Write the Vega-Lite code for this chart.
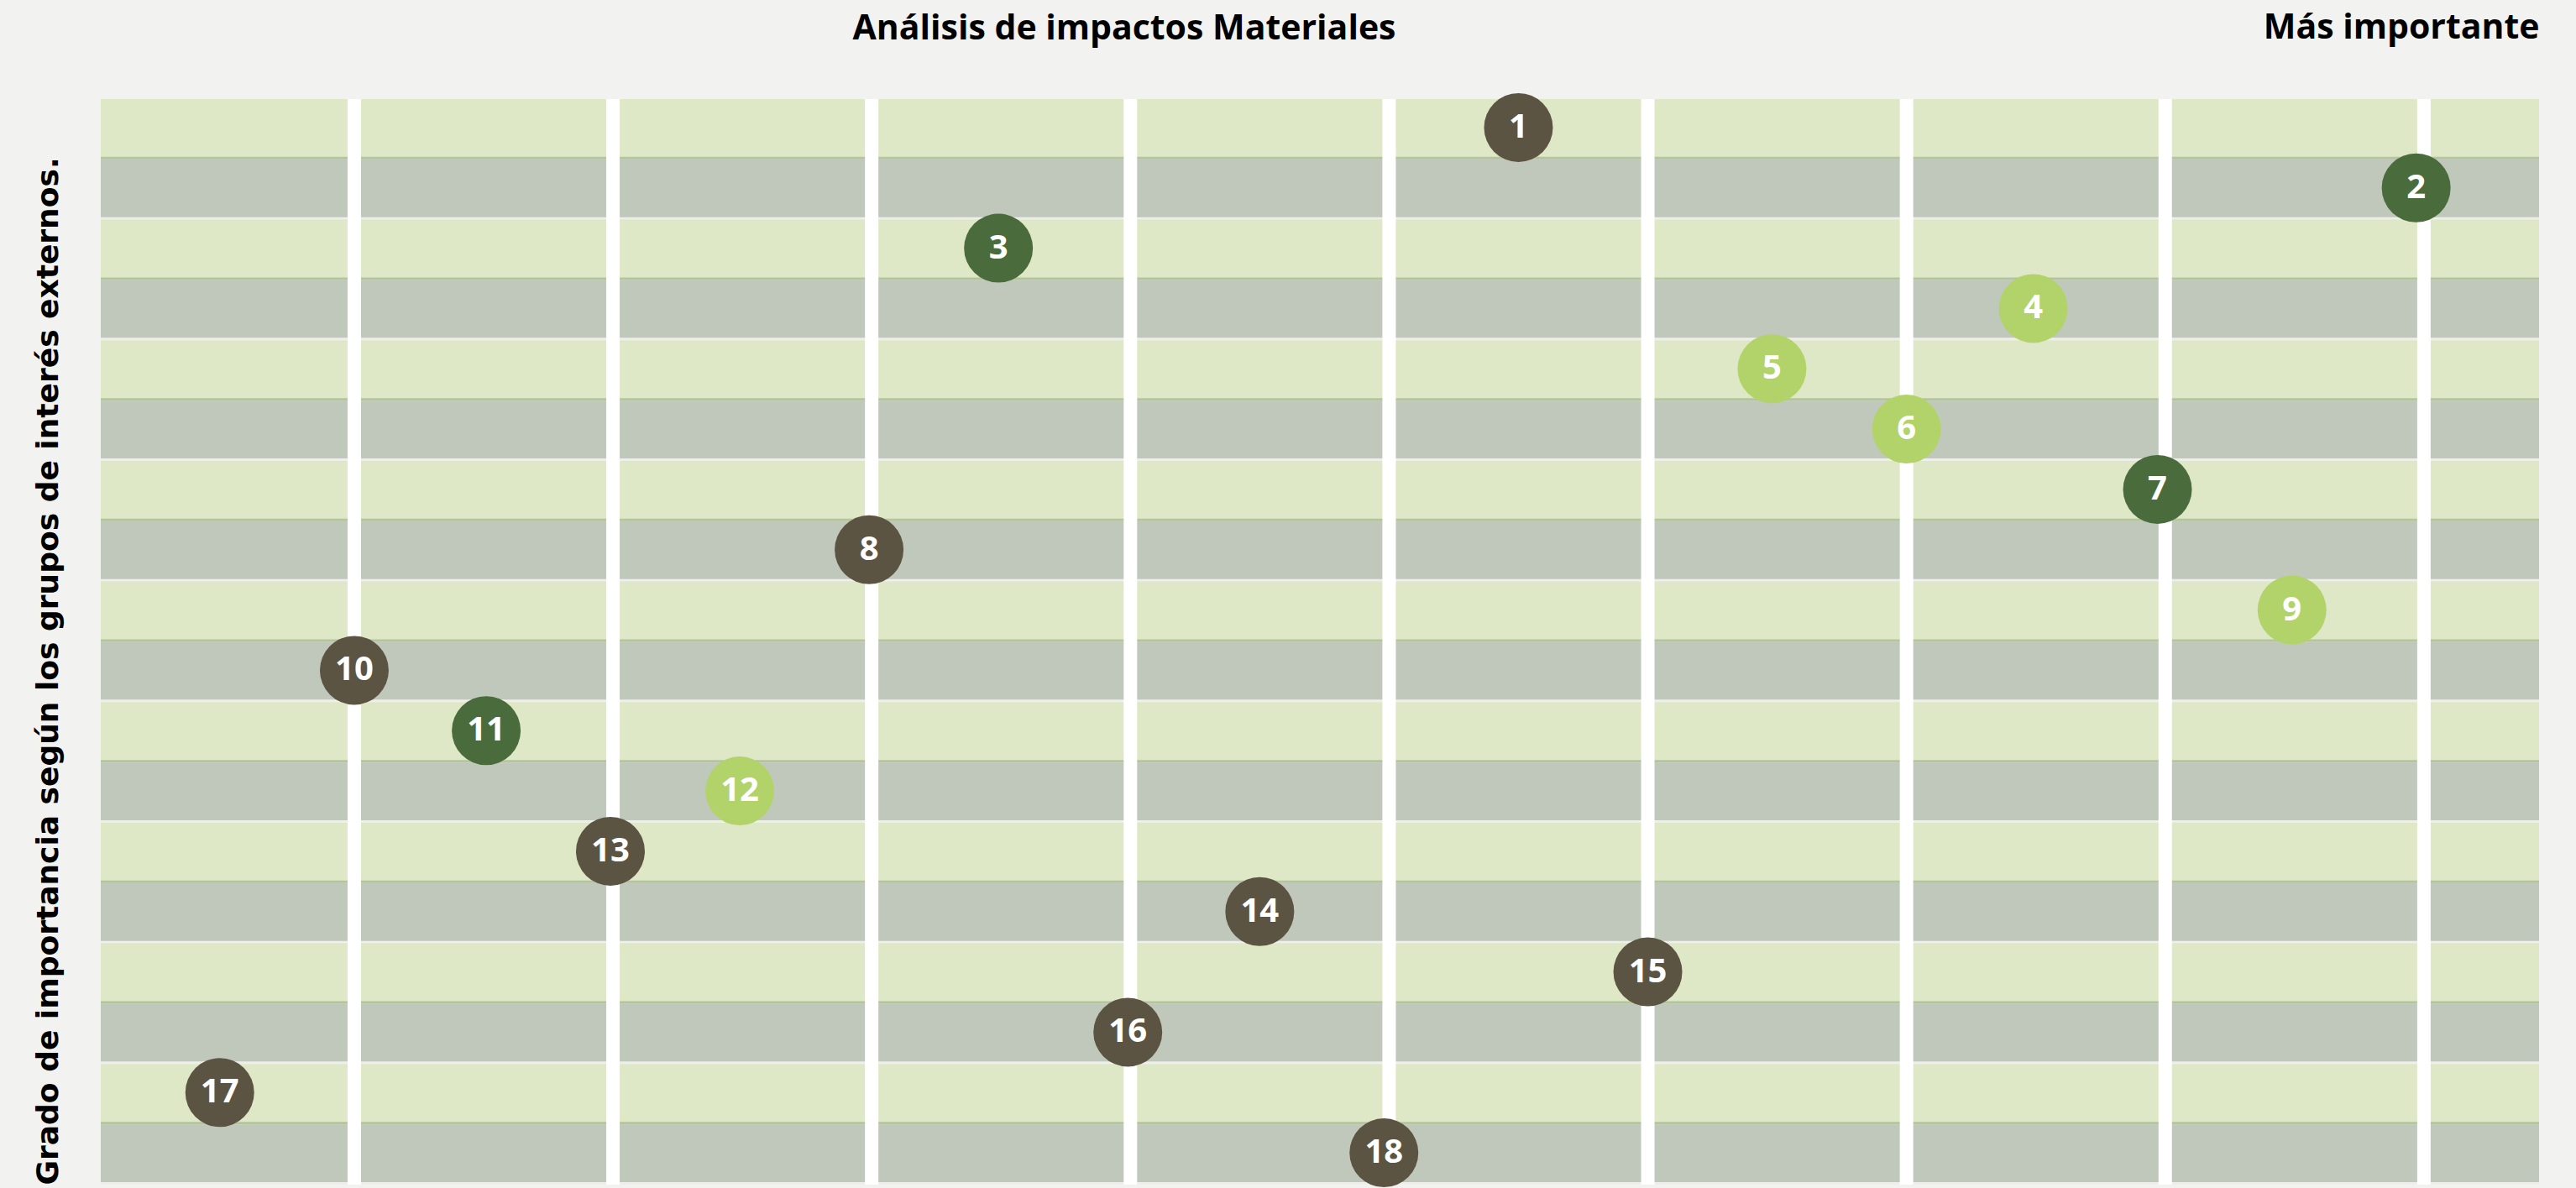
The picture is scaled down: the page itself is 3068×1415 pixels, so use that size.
{
  "$schema": "https://vega.github.io/schema/vega-lite/v6.json",
  "autosize": {"type": "none"},
  "width": 2904,
  "height": 1293,
  "padding": {"left": 120, "top": 118, "right": 44, "bottom": 4},
  "background": "#F2F2F0",
  "title": {
    "text": "Análisis de impactos Materiales",
    "anchor": "middle",
    "dx": -233,
    "offset": -76,
    "font": "Open Sans",
    "fontSize": 41,
    "fontWeight": 700,
    "color": "#000000",
    "baseline": "alphabetic"
  },
  "datasets": {
    "filas": [
      {"fila": 1, "banda": "clara"}, {"fila": 2, "banda": "oscura"},
      {"fila": 3, "banda": "clara"}, {"fila": 4, "banda": "oscura"},
      {"fila": 5, "banda": "clara"}, {"fila": 6, "banda": "oscura"},
      {"fila": 7, "banda": "clara"}, {"fila": 8, "banda": "oscura"},
      {"fila": 9, "banda": "clara"}, {"fila": 10, "banda": "oscura"},
      {"fila": 11, "banda": "clara"}, {"fila": 12, "banda": "oscura"},
      {"fila": 13, "banda": "clara"}, {"fila": 14, "banda": "oscura"},
      {"fila": 15, "banda": "clara"}, {"fila": 16, "banda": "oscura"},
      {"fila": 17, "banda": "clara"}, {"fila": 18, "banda": "oscura"}
    ],
    "lineas": [
      {"importancia": 1}, {"importancia": 2}, {"importancia": 3},
      {"importancia": 4}, {"importancia": 5}, {"importancia": 6},
      {"importancia": 7}, {"importancia": 8}, {"importancia": 9}
    ],
    "impactos": [
      {"fila": 1, "impacto": "1", "importancia": 5.5, "grupo": "G1"},
      {"fila": 2, "impacto": "2", "importancia": 8.97, "grupo": "G2"},
      {"fila": 3, "impacto": "3", "importancia": 3.49, "grupo": "G2"},
      {"fila": 4, "impacto": "4", "importancia": 7.49, "grupo": "G3"},
      {"fila": 5, "impacto": "5", "importancia": 6.48, "grupo": "G3"},
      {"fila": 6, "impacto": "6", "importancia": 7.0, "grupo": "G3"},
      {"fila": 7, "impacto": "7", "importancia": 7.97, "grupo": "G2"},
      {"fila": 8, "impacto": "8", "importancia": 2.99, "grupo": "G1"},
      {"fila": 9, "impacto": "9", "importancia": 8.49, "grupo": "G3"},
      {"fila": 10, "impacto": "10", "importancia": 1.0, "grupo": "G1"},
      {"fila": 11, "impacto": "11", "importancia": 1.51, "grupo": "G2"},
      {"fila": 12, "impacto": "12", "importancia": 2.49, "grupo": "G3"},
      {"fila": 13, "impacto": "13", "importancia": 1.99, "grupo": "G1"},
      {"fila": 14, "impacto": "14", "importancia": 4.5, "grupo": "G1"},
      {"fila": 15, "impacto": "15", "importancia": 6.0, "grupo": "G1"},
      {"fila": 16, "impacto": "16", "importancia": 3.99, "grupo": "G1"},
      {"fila": 17, "impacto": "17", "importancia": 0.48, "grupo": "G1"},
      {"fila": 18, "impacto": "18", "importancia": 4.98, "grupo": "G1"}
    ]
  },
  "config": {
    "view": {"stroke": null},
    "axisX": {
      "orient": "top",
      "labels": false, "ticks": false, "domain": false, "grid": false,
      "titleFont": "Open Sans", "titleFontSize": 41, "titleFontWeight": 700, "titleColor": "#000000",
      "titleAnchor": "end", "titleAlign": "right", "titleBaseline": "alphabetic",
      "titleX": 2904, "titleY": -73
    },
    "axisY": {
      "labels": false, "ticks": false, "domain": false, "grid": false,
      "titleFont": "DejaVu Sans", "titleFontSize": 36, "titleFontWeight": 700, "titleColor": "#000000",
      "titleAngle": 270, "titleAlign": "left", "titleBaseline": "alphabetic",
      "titleX": -52, "titleY": 1293
    }
  },
  "layer": [
    {
      "data": {"name": "filas"},
      "mark": {"type": "rect"},
      "encoding": {
        "y": {"field": "fila", "type": "ordinal", "scale": {"paddingInner": 0, "paddingOuter": 0}, "title": "Grado de importancia según los grupos de interés externos."},
        "color": {"field": "banda", "type": "nominal", "scale": {"domain": ["clara", "oscura"], "range": ["#DFE8C6", "#C0C8BC"]}, "legend": null}
      }
    },
    {
      "data": {"name": "filas"},
      "mark": {"type": "rule", "strokeWidth": 3, "yOffset": -1.5},
      "encoding": {
        "y": {"field": "fila", "type": "ordinal", "bandPosition": 1},
        "stroke": {"field": "banda", "type": "nominal", "scale": {"domain": ["clara", "oscura"], "range": ["#B4C49E", "#EEEEEA"]}, "legend": null}
      }
    },
    {
      "data": {"name": "lineas"},
      "mark": {"type": "rule", "strokeWidth": 16, "color": "#FFFFFF"},
      "encoding": {
        "x": {"field": "importancia", "type": "quantitative", "scale": {"domain": [0.02, 9.445], "nice": false, "zero": false}, "title": "Más importante"}
      }
    },
    {
      "data": {"name": "impactos"},
      "mark": {"type": "circle", "size": 6724, "opacity": 1, "yOffset": -2},
      "encoding": {
        "x": {"field": "importancia", "type": "quantitative"},
        "y": {"field": "fila", "type": "ordinal"},
        "fill": {"field": "grupo", "type": "nominal", "scale": {"domain": ["G1", "G2", "G3"], "range": ["#5C5442", "#4A6B3B", "#B2D36A"]}, "legend": null}
      }
    },
    {
      "data": {"name": "impactos"},
      "mark": {"type": "text", "color": "#FFFFFF", "font": "Open Sans", "fontSize": 40, "fontWeight": 700, "baseline": "middle", "align": "center", "yOffset": -2},
      "encoding": {
        "x": {"field": "importancia", "type": "quantitative"},
        "y": {"field": "fila", "type": "ordinal"},
        "text": {"field": "impacto", "type": "nominal"}
      }
    }
  ]
}
